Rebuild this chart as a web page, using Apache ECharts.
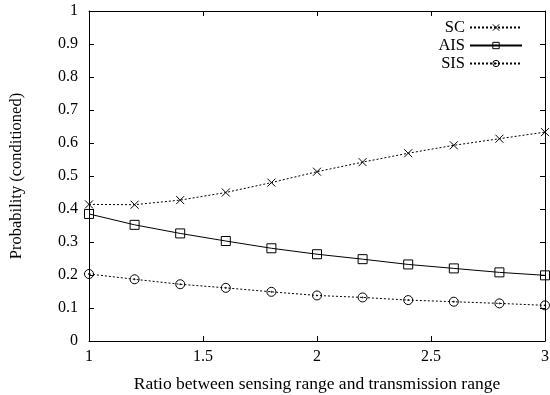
<!DOCTYPE html>
<html>
<head>
<meta charset="utf-8">
<script src="https://cdn.jsdelivr.net/npm/echarts@6/dist/echarts.min.js"></script>
<style>
  html, body { margin: 0; padding: 0; background: #fff; }
  #chart { width: 550px; height: 395px; }
</style>
</head>
<body>
<div id="chart"></div>
<script>
// ratio between sensing range and transmission range
const ratios = [1, 1.2, 1.4, 1.6, 1.8, 2.0, 2.2, 2.4, 2.6, 2.8, 3.0]
const scValues = [0.414, 0.413, 0.427, 0.450, 0.480, 0.513, 0.542, 0.569, 0.593, 0.613, 0.633]
const aisValues = [0.385, 0.352, 0.326, 0.303, 0.281, 0.263, 0.248, 0.232, 0.220, 0.208, 0.199]
const sisValues = [0.203, 0.187, 0.172, 0.161, 0.149, 0.138, 0.132, 0.124, 0.119, 0.114, 0.108]
const seriesNames = ['SC', 'AIS', 'SIS']

const FONT = '"Liberation Serif", "DejaVu Serif", serif'
const crossPath = 'path://M0,0L10,10M10,0L0,10'
const dotCirclePath = 'path://M10,5A5,5 0 1,1 0,5A5,5 0 1,1 10,5ZM5.6,5A0.6,0.6 0 1,1 4.4,5A0.6,0.6 0 1,1 5.6,5Z'

const pairs = (vals) => ratios.map((x, i) => [x, vals[i]])

const axisBase = {
  axisLine: { show: true, onZero: false, lineStyle: { color: '#000', width: 1 } },
  axisTick: { show: true, inside: true, length: 5, lineStyle: { color: '#000' } },
  splitLine: { show: false },
}

function legendAt(name, top) {
  return {
    data: [name],
    right: 27,
    top: top,
    align: 'right',
    itemWidth: 52,
    itemHeight: 8,
    padding: 0,
    itemStyle: { borderWidth: 1 },
    textStyle: { fontFamily: FONT, fontSize: 16.5, color: '#000' },
  }
}

const chart = echarts.init(document.getElementById('chart'), null, { renderer: 'canvas' })
chart.setOption({
  animation: false,
  grid: { left: 89, right: 5, top: 11, bottom: 54, outerBoundsMode: 'none' },
  legend: [legendAt('SC', 19), legendAt('AIS', 37), legendAt('SIS', 55)],
  xAxis: [
    {
      ...axisBase,
      type: 'value', min: 1, max: 3, interval: 0.5,
      name: 'Ratio between sensing range and transmission range',
      nameLocation: 'middle', nameGap: 34,
      nameTextStyle: { fontFamily: FONT, fontSize: 17.5, color: '#000' },
      axisLabel: { fontFamily: FONT, fontSize: 16, color: '#000', margin: 8 },
    },
    {
      ...axisBase,
      type: 'value', min: 1, max: 3, interval: 0.5, position: 'top',
      axisLabel: { show: false },
    },
  ],
  yAxis: [
    {
      ...axisBase,
      type: 'value', min: 0, max: 1, interval: 0.1,
      name: 'Probability (conditioned)',
      nameLocation: 'middle', nameGap: 64,
      nameTextStyle: { fontFamily: FONT, fontSize: 16.5, color: '#000' },
      axisLabel: { fontFamily: FONT, fontSize: 16, color: '#000', margin: 11 },
    },
    {
      ...axisBase,
      type: 'value', min: 0, max: 1, interval: 0.1, position: 'right',
      axisLabel: { show: false },
    },
  ],
  series: [
    {
      name: seriesNames[0], type: 'line', data: pairs(scValues),
      symbol: crossPath, symbolSize: 8,
      itemStyle: { color: '#000', borderColor: '#000', borderWidth: 1 },
      lineStyle: { color: '#000', width: 1, type: [2, 2] },
    },
    {
      name: seriesNames[1], type: 'line', data: pairs(aisValues),
      symbol: 'rect', symbolSize: 9,
      itemStyle: { color: 'rgba(0,0,0,0)', borderColor: '#000', borderWidth: 1 },
      lineStyle: { color: '#000', width: 1 },
    },
    {
      name: seriesNames[2], type: 'line', data: pairs(sisValues),
      symbol: dotCirclePath, symbolSize: 9,
      itemStyle: { color: 'rgba(0,0,0,0)', borderColor: '#000', borderWidth: 1 },
      lineStyle: { color: '#000', width: 1, type: [2, 2] },
    },
  ],
})
</script>
</body>
</html>
